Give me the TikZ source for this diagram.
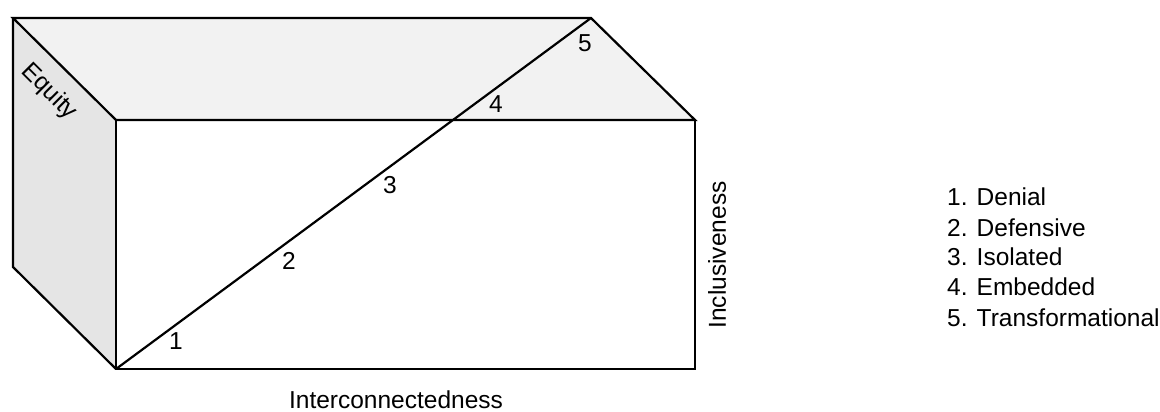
\documentclass[tikz,border=0pt]{standalone}
\usepackage{fontspec}
\setmainfont{Liberation Sans}
\begin{document}
\begin{tikzpicture}[x=1pt,y=-1pt,
  edge/.style={draw=black,line width=2.2pt,line join=miter},
  lbl/.style={font=\fontsize{24.5}{28}\selectfont,inner sep=0pt}]
\useasboundingbox (0,0) rectangle (1160,412);
% corners
\coordinate (BTL) at (13,18);
\coordinate (BTR) at (591,18);
\coordinate (BBL) at (13,267);
\coordinate (FTL) at (116,120);
\coordinate (FTR) at (695,120);
\coordinate (FBL) at (116,369);
\coordinate (FBR) at (695,369);
% faces
\fill[black!5] (BTL) -- (BTR) -- (FTR) -- (FTL) -- cycle;
\fill[black!10] (BTL) -- (FTL) -- (FBL) -- (BBL) -- cycle;
\draw[edge] (BTL) -- (BTR) -- (FTR) -- (FTL) -- cycle;
\draw[edge] (BTL) -- (BBL) -- (FBL);
\draw[edge] (FTL) rectangle (FBR);
\draw[edge] (FBL) -- (BTR);
% numbers
\node[lbl] (n1) at (176,341) {1};
\node[lbl] (n2) at (289,261) {2};
\node[lbl] (n3) at (390,185) {3};
\node[lbl] (n4) at (496,104) {4};
\node[lbl] (n5) at (585,43) {5};
% axis labels
\node[lbl,rotate=-45] (eq) at (49,92) {Equity};
\node[lbl,rotate=90] (inc) at (717,255) {Inclusiveness};
\node[lbl] (int) at (396,399.5) {Interconnectedness};
% legend
\node[lbl,anchor=west] (l1) at (947,197) {1. Denial};
\node[lbl,anchor=west] (l2) at (947,228) {2. Defensive};
\node[lbl,anchor=west] (l3) at (947,257) {3. Isolated};
\node[lbl,anchor=west] (l4) at (947,287) {4. Embedded};
\node[lbl,anchor=west] (l5) at (947,318) {5. Transformational};
\end{tikzpicture}
\end{document}
